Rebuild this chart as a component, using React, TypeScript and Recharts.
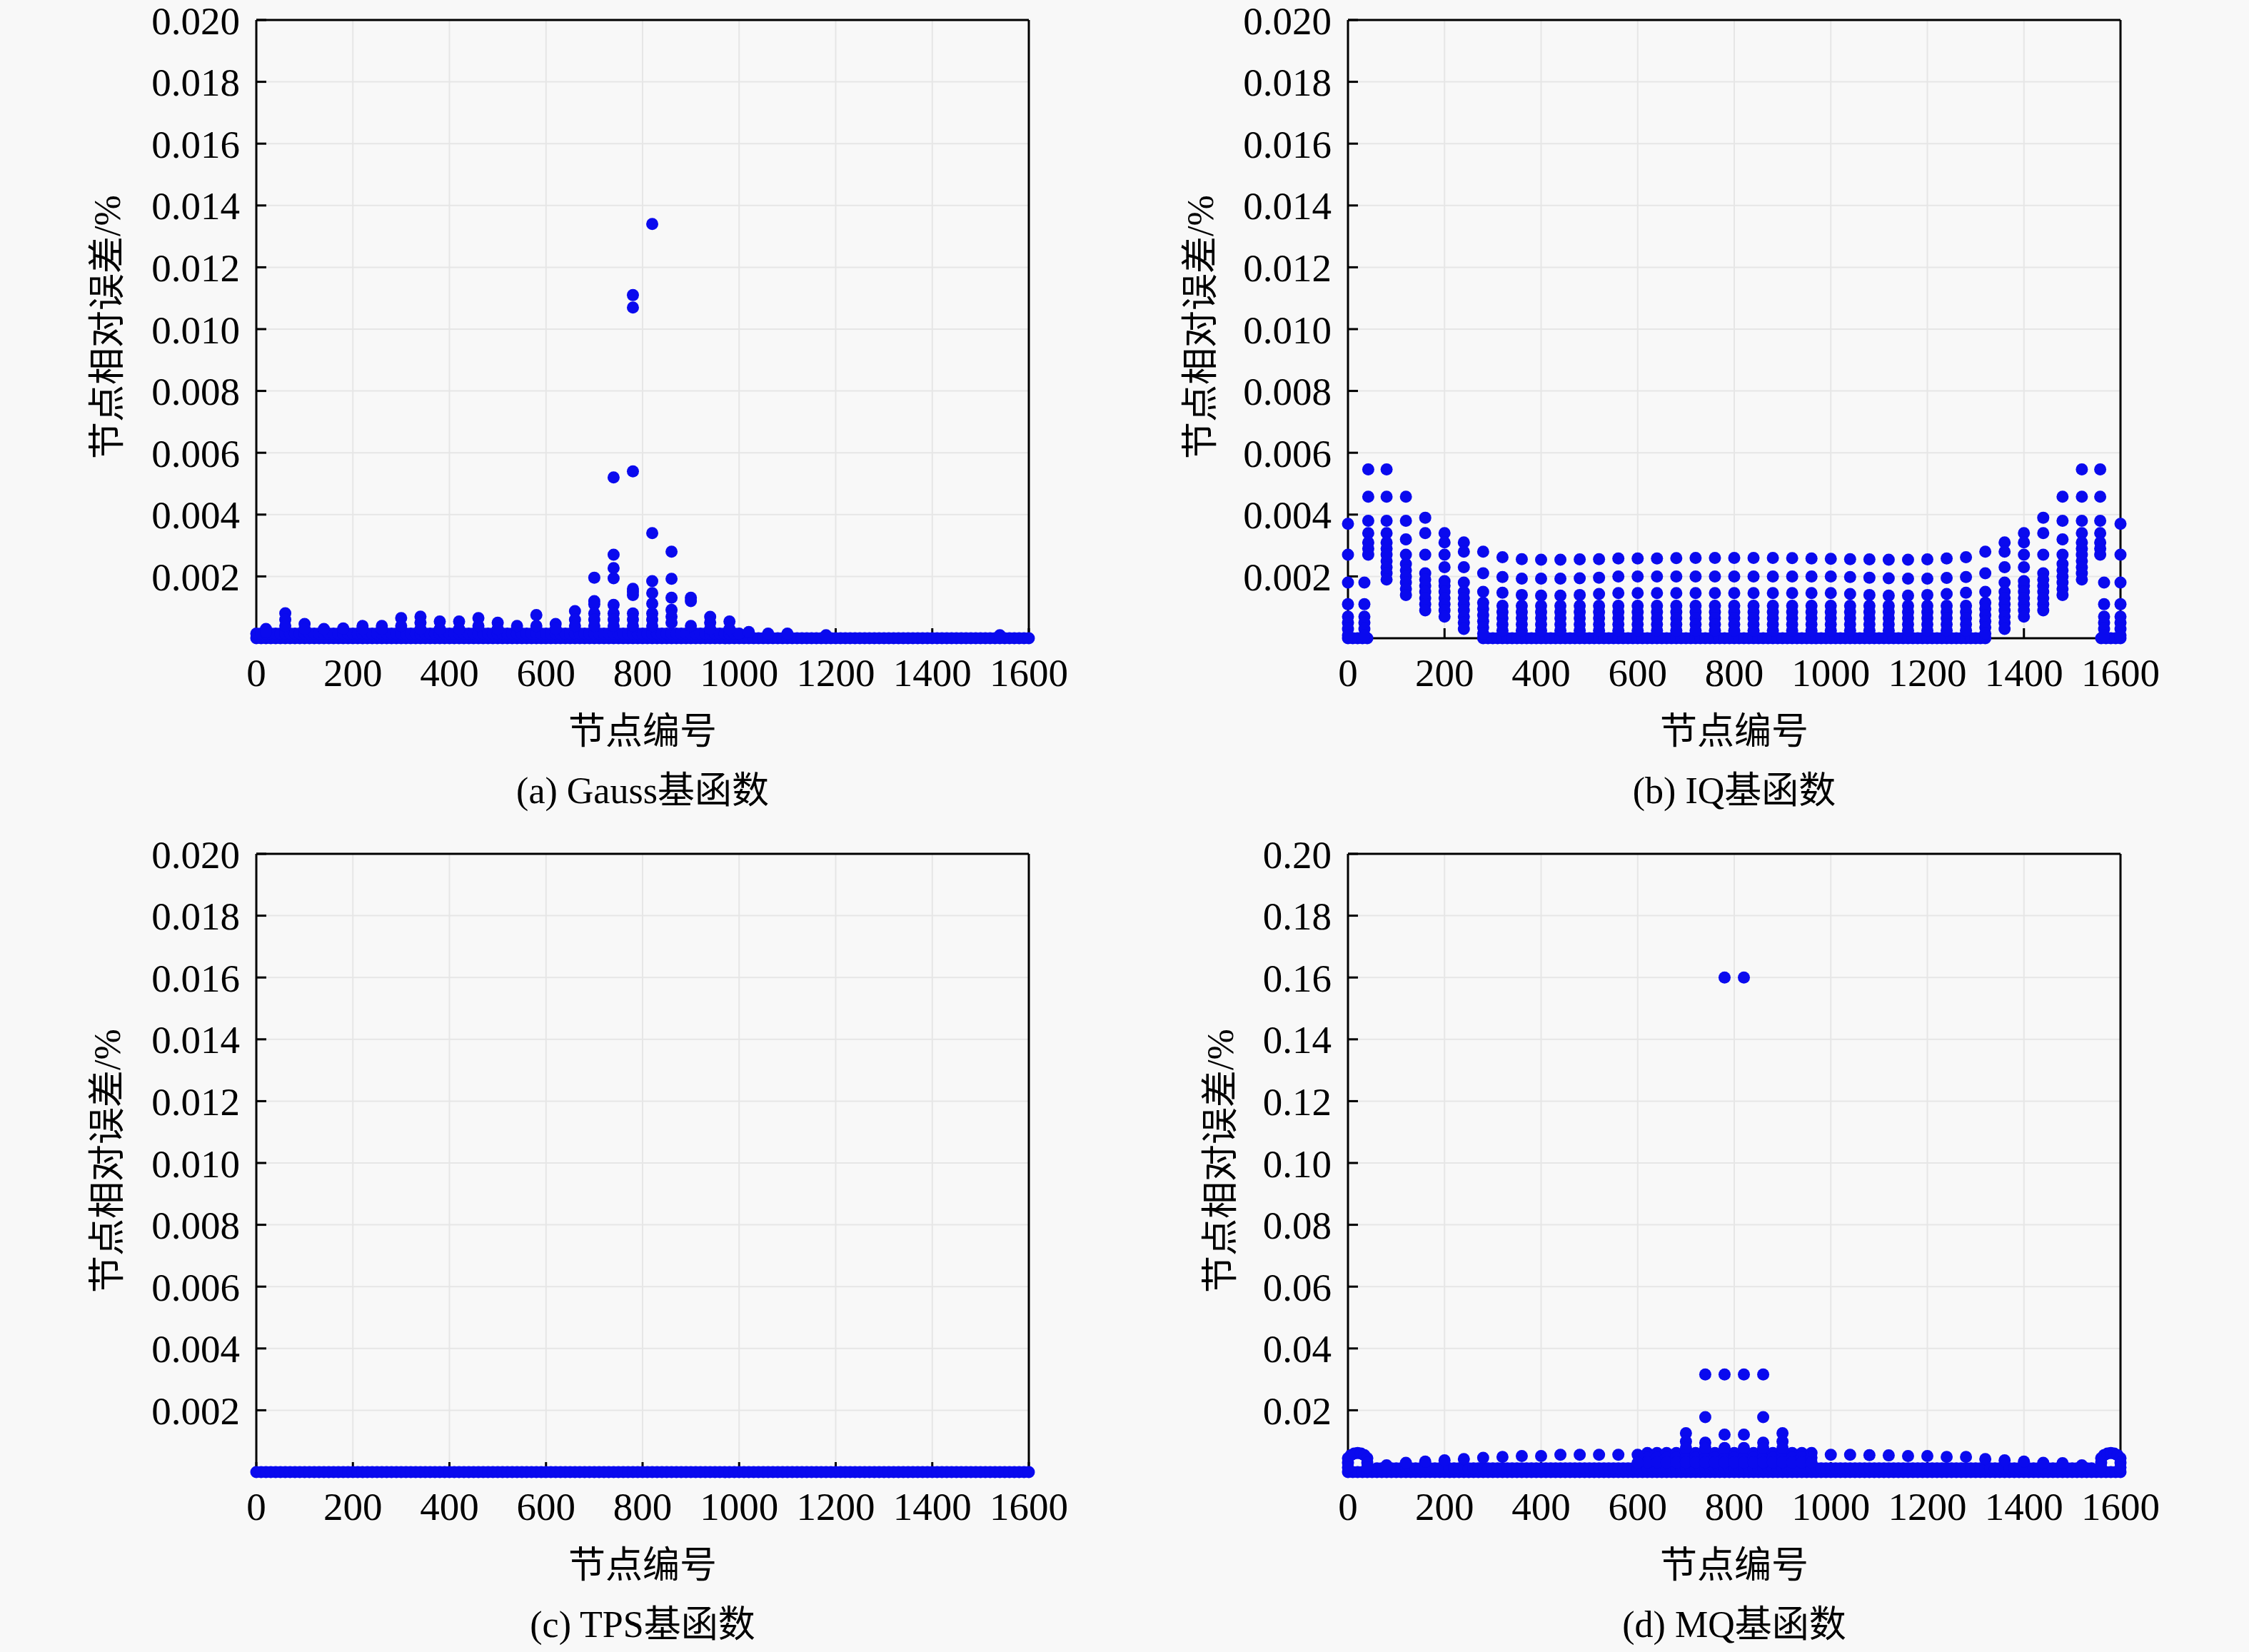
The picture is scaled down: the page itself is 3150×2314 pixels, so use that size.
import { ScatterChart, Scatter, XAxis, YAxis, CartesianGrid } from "recharts";

// axis ticks
const NODE_TICKS = [0, 200, 400, 600, 800, 1000, 1200, 1400, 1600];
const SMALL_TICKS = [0.002, 0.004, 0.006, 0.008, 0.01, 0.012, 0.014, 0.016, 0.018, 0.02];
const MQ_TICKS = [0.02, 0.04, 0.06, 0.08, 0.1, 0.12, 0.14, 0.16, 0.18, 0.2];

// node numbers used for the dense band of near-zero errors (every 10th node)
const NODE_ROW = [
  0, 10, 20, 30, 40, 50, 60, 70, 80, 90, 100, 110, 120, 130, 140, 150, 160, 170, 180, 190,
  200, 210, 220, 230, 240, 250, 260, 270, 280, 290, 300, 310, 320, 330, 340, 350, 360, 370, 380, 390,
  400, 410, 420, 430, 440, 450, 460, 470, 480, 490, 500, 510, 520, 530, 540, 550, 560, 570, 580, 590,
  600, 610, 620, 630, 640, 650, 660, 670, 680, 690, 700, 710, 720, 730, 740, 750, 760, 770, 780, 790,
  800, 810, 820, 830, 840, 850, 860, 870, 880, 890, 900, 910, 920, 930, 940, 950, 960, 970, 980, 990,
  1000, 1010, 1020, 1030, 1040, 1050, 1060, 1070, 1080, 1090, 1100, 1110, 1120, 1130, 1140, 1150, 1160, 1170, 1180, 1190,
  1200, 1210, 1220, 1230, 1240, 1250, 1260, 1270, 1280, 1290, 1300, 1310, 1320, 1330, 1340, 1350, 1360, 1370, 1380, 1390,
  1400, 1410, 1420, 1430, 1440, 1450, 1460, 1470, 1480, 1490, 1500, 1510, 1520, 1530, 1540, 1550, 1560, 1570, 1580, 1590,
  1600,
];

// (a) Gauss: [node, errors]
const GAUSS_COLUMNS: [number, number[]][] = [
  [20, [0.0003, 0.0002]],
  [60, [0.00081, 0.0006, 0.0004]],
  [100, [0.00046, 0.0003]],
  [140, [0.0003]],
  [180, [0.00032]],
  [220, [0.0004, 0.0003]],
  [260, [0.0004, 0.0003]],
  [300, [0.00065, 0.0004]],
  [340, [0.0007, 0.0005, 0.0003]],
  [380, [0.00054, 0.0003]],
  [420, [0.00054, 0.0003]],
  [460, [0.00065, 0.0004]],
  [500, [0.0005, 0.0003]],
  [540, [0.0004]],
  [580, [0.00075, 0.0004]],
  [620, [0.00046, 0.0003]],
  [660, [0.00088, 0.0006, 0.0004]],
  [700, [0.00196, 0.0012, 0.0011, 0.0008, 0.0006, 0.0004]],
  [740, [0.0052, 0.0027, 0.00227, 0.00194, 0.00108, 0.0008, 0.0006, 0.0004]],
  [780, [0.0111, 0.0107, 0.0054, 0.0016, 0.0015, 0.0014, 0.0008, 0.0006, 0.0004]],
  [820, [0.0134, 0.0034, 0.00185, 0.00146, 0.00112, 0.0008, 0.0006, 0.0004]],
  [860, [0.0028, 0.00192, 0.00131, 0.00092, 0.0007, 0.0005]],
  [900, [0.00131, 0.0012, 0.0004]],
  [940, [0.00069, 0.0005, 0.0003]],
  [980, [0.00054, 0.0003]],
  [1020, [0.0002]],
  [1060, [0.00015]],
  [1100, [0.00015]],
  [1180, [0.0001]],
  [1540, [0.0001]],
];
const GAUSS_BAND_LEVEL = 0.00015;

// (b) IQ: interior columns, three upper rows + dense lower part
const IQ_INNER_NODES = [
  320, 360, 400, 440, 480, 520, 560, 600, 640, 680, 720, 760, 800,
  840, 880, 920, 960, 1000, 1040, 1080, 1120, 1160, 1200, 1240, 1280,
];
const IQ_ROW1 = [
  0.00262, 0.00256, 0.00254, 0.00254, 0.00255, 0.00256, 0.00258, 0.00258, 0.00258, 0.00259, 0.0026, 0.0026, 0.0026,
  0.0026, 0.0026, 0.00259, 0.00258, 0.00257, 0.00256, 0.00255, 0.00254, 0.00254, 0.00255, 0.00258, 0.00262,
];
const IQ_ROW2 = [
  0.00198, 0.00193, 0.00193, 0.00193, 0.00194, 0.00196, 0.002, 0.002, 0.002, 0.002, 0.002, 0.002, 0.002,
  0.002, 0.002, 0.002, 0.002, 0.002, 0.00198, 0.00196, 0.00194, 0.00193, 0.00193, 0.00195, 0.00198,
];
const IQ_ROW3 = [
  0.00147, 0.0014, 0.00138, 0.00138, 0.0014, 0.00143, 0.00146, 0.00146, 0.00146, 0.00146, 0.00146, 0.00146, 0.00146,
  0.00146, 0.00146, 0.00146, 0.00146, 0.00146, 0.00143, 0.0014, 0.00138, 0.00138, 0.0014, 0.00143, 0.00147,
];
const IQ_DENSE = [0.00105, 0.00085, 0.00065, 0.00045, 0.00025];

// (b) IQ: edge columns, same on both sides of the grid
const IQ_EDGE_LEFT = [0, 34, 42, 80, 120, 160, 200, 240, 280];
const IQ_EDGE_RIGHT = [1600, 1566, 1558, 1520, 1480, 1440, 1400, 1360, 1320];
const IQ_EDGE_VALUES = [
  [0.0037, 0.0027, 0.0018, 0.0011, 0.0007, 0.0005, 0.0003, 0.0001],
  [0.0018, 0.0011, 0.0007, 0.0005, 0.0003, 0.0001],
  [0.00546, 0.00458, 0.0038, 0.0034, 0.0031, 0.0029, 0.0027],
  [0.00546, 0.00458, 0.0038, 0.0034, 0.0031, 0.0029, 0.0027, 0.0025, 0.0023, 0.0021, 0.0019],
  [0.00458, 0.0038, 0.0032, 0.0027, 0.0024, 0.0022, 0.002, 0.0018, 0.0016, 0.0014],
  [0.0039, 0.0034, 0.0027, 0.0021, 0.0019, 0.0017, 0.0015, 0.0013, 0.0011, 0.0009],
  [0.0034, 0.0031, 0.0027, 0.0023, 0.00185, 0.0017, 0.0015, 0.0013, 0.0011, 0.0009, 0.0007],
  [0.0031, 0.0028, 0.0023, 0.0018, 0.0015, 0.0013, 0.0011, 0.0009, 0.0007, 0.0005, 0.0003],
  [0.0028, 0.0021, 0.0015, 0.00115, 0.00095, 0.00075, 0.00055, 0.00035, 0.00015],
];
const IQ_BAND_RANGES = [[0, 40], [280, 1320], [1560, 1600]];

// (d) MQ: [node, errors]
const MQ_COLUMNS: [number, number[]][] = [
  [0, [0.0045, 0.003, 0.0015]],
  [6, [0.0055]],
  [13, [0.006]],
  [20, [0.0062]],
  [27, [0.006]],
  [34, [0.0055]],
  [40, [0.0045, 0.003, 0.0015]],
  [80, [0.0022]],
  [120, [0.003]],
  [160, [0.0034]],
  [200, [0.0038]],
  [240, [0.0042]],
  [280, [0.0046]],
  [320, [0.0049]],
  [360, [0.0052]],
  [400, [0.0052]],
  [440, [0.0056]],
  [480, [0.0056]],
  [520, [0.0056]],
  [560, [0.0056]],
  [600, [0.0056, 0.003]],
  [700, [0.0126, 0.0099, 0.0078]],
  [740, [0.0316, 0.0178, 0.0095, 0.0078]],
  [780, [0.16, 0.0316, 0.0121, 0.0078]],
  [820, [0.16, 0.0316, 0.0121, 0.0078]],
  [860, [0.0316, 0.0178, 0.0095, 0.0078]],
  [900, [0.0126, 0.0099, 0.0078]],
  [1000, [0.0056]],
  [1040, [0.0056]],
  [1080, [0.0055]],
  [1120, [0.0054]],
  [1160, [0.0052]],
  [1200, [0.0052]],
  [1240, [0.0049]],
  [1280, [0.0049]],
  [1320, [0.0042]],
  [1360, [0.0038]],
  [1400, [0.0034]],
  [1440, [0.003]],
  [1480, [0.0029]],
  [1520, [0.0022]],
  [1560, [0.0045, 0.003, 0.0015]],
  [1566, [0.0055]],
  [1573, [0.006]],
  [1580, [0.0062]],
  [1587, [0.006]],
  [1594, [0.0055]],
  [1600, [0.0045, 0.003, 0.0015]],
];
const MQ_CORE_NODES = [620, 640, 660, 680, 700, 720, 740, 760, 780, 800, 820, 840, 860, 880, 900, 920, 940, 960];
const MQ_CORE_LEVELS = [0.0062, 0.0047, 0.0032];
const MQ_BAND_LEVEL = 0.0012;

const FONT = '"Liberation Serif", "Times New Roman", "Noto Sans CJK SC", serif';
const DOT = "#0a0aee";
const BG = "#f8f8f8";

type Pt = { x: number; y: number };

const fromColumns = (cols: [number, number[]][]): Pt[] =>
  cols.flatMap(([node, ys]) => ys.map((y) => ({ x: node, y })));

const band = (ranges: number[][], level: number): Pt[] =>
  NODE_ROW.filter((n) => ranges.some(([a, b]) => n >= a && n <= b)).map((n) => ({ x: n, y: level }));

const gaussPoints: Pt[] = [
  ...band([[0, 1600]], 0),
  ...band([[0, 1000]], GAUSS_BAND_LEVEL),
  ...fromColumns(GAUSS_COLUMNS),
];

const iqPoints: Pt[] = [
  ...band(IQ_BAND_RANGES, 0),
  ...IQ_INNER_NODES.flatMap((n, i) =>
    [IQ_ROW1[i], IQ_ROW2[i], IQ_ROW3[i], ...IQ_DENSE].map((y) => ({ x: n, y }))
  ),
  ...IQ_EDGE_VALUES.flatMap((ys, i) => [
    ...ys.map((y) => ({ x: IQ_EDGE_LEFT[i], y })),
    ...ys.map((y) => ({ x: IQ_EDGE_RIGHT[i], y })),
  ]),
];

const tpsPoints: Pt[] = band([[0, 1600]], 0);

const mqPoints: Pt[] = [
  ...band([[0, 1600]], 0),
  ...band([[60, 1540]], MQ_BAND_LEVEL),
  ...MQ_CORE_NODES.flatMap((n) => MQ_CORE_LEVELS.map((y) => ({ x: n, y }))),
  ...fromColumns(MQ_COLUMNS),
];

const Dot = (p: any) => {
  if (p.cx == null || p.cy == null) return <g />;
  return <circle cx={p.cx} cy={p.cy} r={8.5} fill={DOT} />;
};

const PLOT_W = 1082;
const PLOT_H = 866;
const M_TOP = 50;
const M_RIGHT = 80;
const Y_W = 220;
const X_H = 80;

type PanelProps = {
  left: number;
  top: number;
  yMax: number;
  yTicks: number[];
  digits: number;
  points: Pt[];
  yTitleX: number;
  caption: string;
};

const tickStyle = { fontSize: 55, fill: "#000", fontFamily: FONT };
const axisLine = { stroke: "#000", strokeWidth: 3 };
const tickLine = { stroke: "#000", strokeWidth: 3 };

const Panel = ({ left, top, yMax, yTicks, digits, points, yTitleX, caption }: PanelProps) => {
  const cx = left + PLOT_W / 2;
  const cy = top + PLOT_H / 2;
  return (
    <>
      <div style={{ position: "absolute", left: left - Y_W, top: top - M_TOP - 2 }}>
        <ScatterChart
          width={Y_W + PLOT_W + 2 + M_RIGHT}
          height={M_TOP + 2 + PLOT_H + X_H}
          margin={{ top: M_TOP, right: M_RIGHT, bottom: 0, left: 0 }}
        >
          <CartesianGrid stroke="#e6e6e6" strokeWidth={2} />
          <XAxis
            type="number"
            dataKey="x"
            domain={[0, 1600]}
            ticks={NODE_TICKS}
            interval={0}
            height={X_H}
            tickSize={-14}
            tickMargin={42}
            tick={tickStyle}
            axisLine={axisLine}
            tickLine={tickLine}
          />
          <XAxis
            xAxisId="top"
            orientation="top"
            type="number"
            domain={[0, 1600]}
            ticks={NODE_TICKS}
            interval={0}
            height={2}
            tickSize={-14}
            tick={false}
            axisLine={axisLine}
            tickLine={tickLine}
          />
          <YAxis
            type="number"
            dataKey="y"
            domain={[0, yMax]}
            ticks={yTicks}
            interval={0}
            width={Y_W}
            tickSize={-14}
            tickMargin={37}
            tick={tickStyle}
            tickFormatter={(v: number) => v.toFixed(digits)}
            axisLine={axisLine}
            tickLine={tickLine}
          />
          <YAxis
            yAxisId="right"
            orientation="right"
            type="number"
            domain={[0, yMax]}
            ticks={yTicks}
            interval={0}
            width={2}
            tickSize={-14}
            tick={false}
            axisLine={axisLine}
            tickLine={tickLine}
          />
          <Scatter data={points} shape={Dot} isAnimationActive={false} />
        </ScatterChart>
      </div>
      <div
        style={{
          position: "absolute",
          left: yTitleX,
          top: cy - 3,
          transform: "translate(-50%, -50%) rotate(-90deg)",
          whiteSpace: "nowrap",
          fontSize: 52,
          lineHeight: 1,
          fontFamily: FONT,
        }}
      >
        节点相对误差/%
      </div>
      <div
        style={{
          position: "absolute",
          left: cx,
          top: top + PLOT_H + 131,
          transform: "translate(-50%, -50%)",
          whiteSpace: "nowrap",
          fontSize: 52,
          lineHeight: 1,
          fontFamily: FONT,
        }}
      >
        节点编号
      </div>
      <div
        style={{
          position: "absolute",
          left: cx,
          top: top + PLOT_H + 214,
          transform: "translate(-50%, -50%)",
          whiteSpace: "nowrap",
          fontSize: 52,
          lineHeight: 1,
          fontFamily: FONT,
        }}
      >
        {caption}
      </div>
    </>
  );
};

const App = () => {
  return (
    <div style={{ position: "relative", width: 3150, height: 2314, background: BG, overflow: "hidden" }}>
      <style>{`body{margin:0;background:${BG}}`}</style>
      <Panel left={359} top={28} yMax={0.02} yTicks={SMALL_TICKS} digits={3} points={gaussPoints} yTitleX={151} caption="(a) Gauss基函数" />
      <Panel left={1888} top={28} yMax={0.02} yTicks={SMALL_TICKS} digits={3} points={iqPoints} yTitleX={1682} caption="(b) IQ基函数" />
      <Panel left={359} top={1196} yMax={0.02} yTicks={SMALL_TICKS} digits={3} points={tpsPoints} yTitleX={151} caption="(c) TPS基函数" />
      <Panel left={1888} top={1196} yMax={0.2} yTicks={MQ_TICKS} digits={2} points={mqPoints} yTitleX={1710} caption="(d) MQ基函数" />
    </div>
  );
};

export default App;
